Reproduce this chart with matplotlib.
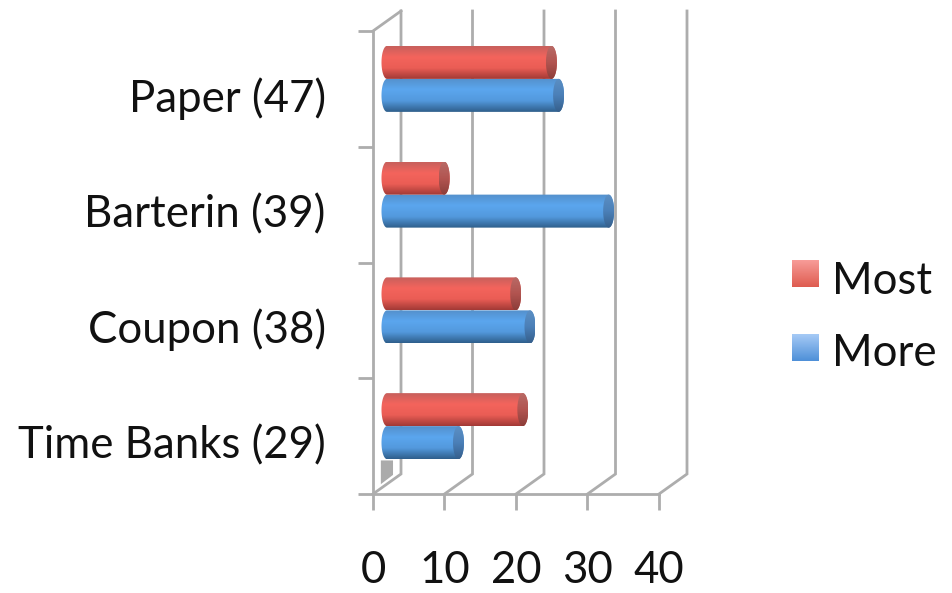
import numpy as np
import matplotlib
matplotlib.use("Agg")
import matplotlib.pyplot as plt
from matplotlib.colors import LinearSegmentedColormap
from matplotlib.patches import Polygon

plt.rcParams["font.family"] = ["Lato", "DejaVu Sans"]

# Data
categories = ["Time Banks (29)", "Coupon (38)", "Barterin (39)", "Paper (47)"]
most = [19, 18, 8, 23]
more = [10, 20, 31, 24]
x_ticks = [0, 10, 20, 30, 40]

W, H = 953, 593
GRID = "#adadad"
LW = 2.0
FS = 31.5
DEPTH_X = 28 / 7.15      # wall offset in x units
DEPTH_Y = 20 / 115.75    # wall offset in category units
BAR_H = 33 / 115.75
CAP_W = 5.5 / 7.15

red_body = LinearSegmentedColormap.from_list("red_body", ["#c8605c", "#f4645c", "#ea5d55", "#a33a36"])
red_cap = LinearSegmentedColormap.from_list("red_cap", ["#b86a66", "#b25450", "#8c3e3a"])
blue_body = LinearSegmentedColormap.from_list("blue_body", ["#5490cc", "#5ba6ee", "#5399dd", "#2f5f8c"])
blue_cap = LinearSegmentedColormap.from_list("blue_cap", ["#5c8fc4", "#4b80b8", "#365f8c"])
red_swatch = LinearSegmentedColormap.from_list("red_swatch", ["#f89c98", "#de5c50"])
blue_swatch = LinearSegmentedColormap.from_list("blue_swatch", ["#a6caf6", "#4e90d8"])
gradient = np.linspace(0, 1, 64).reshape(-1, 1)


def gradient_fill(ax, verts, extent, cmap, z):
    im = ax.imshow(gradient, extent=extent, cmap=cmap, aspect="auto", origin="upper", zorder=z)
    clip = Polygon(verts, closed=True, transform=ax.transData, facecolor="none", edgecolor="none")
    ax.add_patch(clip)
    im.set_clip_path(clip)
    im.set_clip_on(True)


def cylinder(ax, value, yc, body, cap):
    # horizontal cylinder: rounded far end at the base, elliptical cap at the value
    t = np.linspace(0, np.pi, 40)
    base = DEPTH_X / 2
    end = base + value
    bottom, top = yc - BAR_H / 2, yc + BAR_H / 2
    right = np.column_stack([end + CAP_W * np.sin(t), yc + BAR_H / 2 * np.cos(t)])
    left = np.column_stack([base - CAP_W * np.sin(t), yc - BAR_H / 2 * np.cos(t)])
    gradient_fill(ax, np.vstack([right, left]), [base - CAP_W, end + CAP_W, bottom, top], body, 3)
    face = np.column_stack([end + CAP_W * np.sin(2 * t), yc + BAR_H / 2 * np.cos(2 * t)])
    gradient_fill(ax, face, [end - CAP_W, end + CAP_W, bottom, top], cap, 4)


fig = plt.figure(figsize=(W / 100, H / 100), dpi=100)
ax = fig.add_axes([373 / W, 1 - 494 / H, 286 / W, 463 / H])
n = len(categories)

# Back wall and floor lines
for x in x_ticks:
    ax.plot([x, x + DEPTH_X, x + DEPTH_X], [0, DEPTH_Y, n + DEPTH_Y],
            color=GRID, lw=LW, clip_on=False, zorder=1, solid_joinstyle="miter")
ax.plot([0, DEPTH_X], [n, n + DEPTH_Y], color=GRID, lw=LW, clip_on=False, zorder=1)

# Small grey block on the floor under the lowest bar
ax.add_patch(Polygon([(1.1, 0.29), (2.8, 0.29), (2.8, 0.165), (1.1, 0.085)],
                     facecolor="#ababab", edgecolor="none", zorder=2))

# Bars
for i in range(n):
    yc = i + 0.5 + DEPTH_Y / 2
    cylinder(ax, more[i], yc - BAR_H / 2, blue_body, blue_cap)
    cylinder(ax, most[i], yc + BAR_H / 2, red_body, red_cap)

ax.set_xlim(0, 40)
ax.set_ylim(0, n)
ax.set_xticks(x_ticks)
ax.set_yticks(range(n + 1))
ax.set_yticklabels([])
ax.set_yticks([i + 0.45 for i in range(n)], minor=True)
ax.set_yticklabels(categories, minor=True, fontsize=FS, color="#111111")
ax.tick_params(axis="y", which="minor", length=0, pad=34)
ax.tick_params(axis="y", which="major", length=11, width=LW, color=GRID)
ax.tick_params(axis="x", length=11.5, width=LW, color=GRID, labelsize=FS, labelcolor="#111111", pad=28.5)
for side in ["top", "right"]:
    ax.spines[side].set_visible(False)
for side in ["left", "bottom"]:
    ax.spines[side].set_color(GRID)
    ax.spines[side].set_linewidth(LW)
ax.patch.set_visible(False)

# Legend
for label, cmap, top, mid in [("Most", red_swatch, 260, 281), ("More", blue_swatch, 334, 354)]:
    sw = fig.add_axes([792 / W, 1 - (top + 27) / H, 27 / W, 27 / H])
    sw.imshow(gradient, cmap=cmap, aspect="auto")
    sw.axis("off")
    fig.text(832 / W, 1 - mid / H, label, fontsize=FS, color="#111111", va="center", ha="left")

fig.savefig("out.png", dpi=100, facecolor="white")
